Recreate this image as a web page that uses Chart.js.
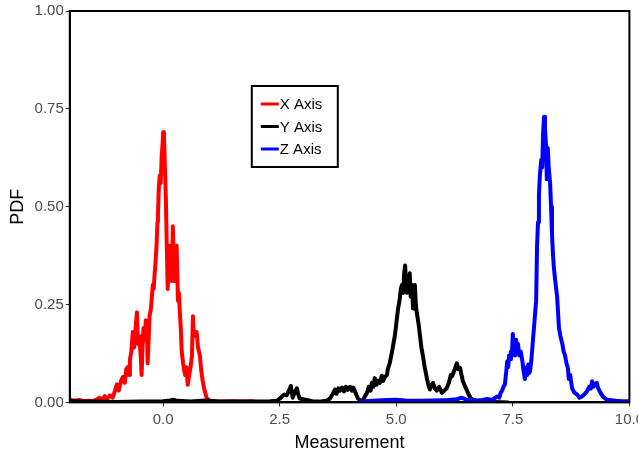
<!DOCTYPE html>
<html>
<head>
<meta charset="utf-8">
<script src="https://cdn.jsdelivr.net/npm/chart.js@4.4.0/dist/chart.umd.min.js"></script>
<style>
  html, body { margin: 0; padding: 0; background: #fff; overflow: hidden; }
  #wrap { width: 648px; height: 454px; }
</style>
</head>
<body>
<div id="wrap"><canvas id="pdfChart" width="648" height="454"></canvas></div>
<script>
// X Axis (red)
const xAxisMeas = [-2.00, -1.90, -1.80, -1.70, -1.60, -1.50, -1.42, -1.36, -1.30, -1.25, -1.20, -1.14, -1.08, -1.03, -0.99, -0.95, -0.90, -0.86, -0.82, -0.79, -0.76, -0.73, -0.71, -0.68, -0.65, -0.62, -0.59, -0.56, -0.54, -0.51, -0.48, -0.46, -0.44, -0.42, -0.39, -0.37, -0.35, -0.33, -0.31, -0.29, -0.26, -0.22, -0.20, -0.18, -0.16, -0.14, -0.12, -0.11, -0.09, -0.07, -0.05, -0.03, -0.01, 0.00, 0.02, 0.04, 0.06, 0.08, 0.10, 0.12, 0.14, 0.16, 0.19, 0.21, 0.23, 0.25, 0.27, 0.29, 0.32, 0.34, 0.36, 0.38, 0.40, 0.43, 0.47, 0.50, 0.53, 0.56, 0.59, 0.62, 0.64, 0.66, 0.69, 0.72, 0.75, 0.79, 0.82, 0.85, 0.89, 0.94, 1.00, 1.10, 1.30, 1.50, 1.70, 1.90, 1.97];
const xAxisPdf  = [0.007, 0.004, 0.006, 0.003, 0.004, 0.003, 0.008, 0.012, 0.006, 0.016, 0.008, 0.018, 0.012, 0.030, 0.046, 0.030, 0.055, 0.065, 0.050, 0.085, 0.090, 0.070, 0.110, 0.130, 0.180, 0.140, 0.190, 0.230, 0.150, 0.170, 0.120, 0.070, 0.140, 0.190, 0.160, 0.210, 0.200, 0.100, 0.160, 0.220, 0.240, 0.300, 0.290, 0.330, 0.360, 0.400, 0.460, 0.480, 0.550, 0.580, 0.560, 0.630, 0.660, 0.690, 0.680, 0.600, 0.520, 0.400, 0.290, 0.350, 0.400, 0.330, 0.310, 0.450, 0.360, 0.310, 0.380, 0.400, 0.260, 0.280, 0.230, 0.190, 0.130, 0.100, 0.070, 0.090, 0.045, 0.070, 0.090, 0.120, 0.220, 0.170, 0.180, 0.180, 0.140, 0.120, 0.080, 0.055, 0.030, 0.010, 0.004, 0.003, 0.002, 0.003, 0.002, 0.003, 0.002];

// Y Axis (black)
const yAxisMeas = [-2.00, -1.80, -1.50, -1.00, -0.50, 0.00, 0.15, 0.22, 0.30, 0.60, 0.90, 1.20, 1.60, 2.00, 2.30, 2.45, 2.55, 2.60, 2.65, 2.70, 2.74, 2.78, 2.82, 2.87, 2.90, 2.93, 3.00, 3.08, 3.20, 3.35, 3.50, 3.58, 3.63, 3.69, 3.72, 3.76, 3.79, 3.84, 3.88, 3.92, 3.96, 4.01, 4.05, 4.08, 4.11, 4.15, 4.18, 4.24, 4.29, 4.33, 4.37, 4.41, 4.45, 4.48, 4.51, 4.54, 4.58, 4.61, 4.65, 4.69, 4.72, 4.76, 4.80, 4.82, 4.86, 4.91, 4.94, 4.97, 5.00, 5.04, 5.07, 5.10, 5.12, 5.15, 5.17, 5.19, 5.21, 5.23, 5.25, 5.27, 5.29, 5.31, 5.34, 5.36, 5.38, 5.40, 5.42, 5.44, 5.48, 5.51, 5.54, 5.57, 5.61, 5.66, 5.69, 5.72, 5.76, 5.79, 5.83, 5.87, 5.92, 5.98, 6.03, 6.08, 6.13, 6.17, 6.20, 6.24, 6.27, 6.30, 6.33, 6.37, 6.40, 6.43, 6.48, 6.54, 6.59, 6.64, 6.75, 6.90, 7.10, 7.40];
const yAxisPdf  = [0.004, 0.002, 0.002, 0.001, 0.002, 0.003, 0.005, 0.007, 0.004, 0.002, 0.005, 0.002, 0.002, 0.002, 0.003, 0.004, 0.015, 0.020, 0.018, 0.030, 0.042, 0.012, 0.025, 0.036, 0.020, 0.010, 0.008, 0.006, 0.003, 0.002, 0.004, 0.010, 0.020, 0.033, 0.022, 0.036, 0.030, 0.038, 0.028, 0.040, 0.032, 0.040, 0.030, 0.038, 0.030, 0.018, 0.010, 0.004, 0.006, 0.015, 0.024, 0.040, 0.030, 0.050, 0.040, 0.062, 0.045, 0.055, 0.050, 0.068, 0.055, 0.065, 0.070, 0.085, 0.100, 0.130, 0.150, 0.170, 0.200, 0.240, 0.260, 0.290, 0.300, 0.280, 0.330, 0.350, 0.310, 0.280, 0.320, 0.300, 0.330, 0.270, 0.300, 0.240, 0.270, 0.300, 0.250, 0.230, 0.200, 0.170, 0.140, 0.120, 0.090, 0.060, 0.045, 0.033, 0.045, 0.050, 0.035, 0.030, 0.040, 0.024, 0.030, 0.036, 0.050, 0.070, 0.067, 0.080, 0.090, 0.100, 0.085, 0.088, 0.070, 0.054, 0.040, 0.024, 0.012, 0.007, 0.003, 0.002, 0.001, 0.000];

// Z Axis (blue)
const zAxisMeas = [4.25, 4.50, 4.80, 5.00, 5.20, 5.50, 5.80, 6.10, 6.30, 6.40, 6.50, 6.70, 6.85, 6.95, 7.05, 7.10, 7.16, 7.21, 7.24, 7.27, 7.30, 7.33, 7.36, 7.38, 7.40, 7.42, 7.44, 7.46, 7.48, 7.50, 7.52, 7.55, 7.57, 7.59, 7.61, 7.64, 7.67, 7.70, 7.73, 7.76, 7.79, 7.81, 7.83, 7.85, 7.87, 7.90, 7.93, 7.96, 8.00, 8.02, 8.04, 8.06, 8.08, 8.11, 8.13, 8.15, 8.17, 8.19, 8.21, 8.23, 8.25, 8.27, 8.30, 8.32, 8.34, 8.36, 8.38, 8.41, 8.45, 8.49, 8.52, 8.56, 8.59, 8.62, 8.65, 8.68, 8.70, 8.73, 8.77, 8.82, 8.88, 8.93, 8.98, 9.03, 9.09, 9.14, 9.17, 9.20, 9.23, 9.26, 9.30, 9.33, 9.38, 9.43, 9.50, 9.54, 9.70, 9.85, 10.00];
const zAxisPdf  = [0.002, 0.004, 0.006, 0.007, 0.005, 0.004, 0.005, 0.006, 0.008, 0.012, 0.007, 0.005, 0.006, 0.009, 0.006, 0.010, 0.015, 0.012, 0.025, 0.030, 0.040, 0.046, 0.080, 0.105, 0.090, 0.120, 0.110, 0.130, 0.120, 0.175, 0.140, 0.120, 0.160, 0.130, 0.150, 0.120, 0.130, 0.110, 0.080, 0.060, 0.090, 0.070, 0.097, 0.075, 0.080, 0.110, 0.157, 0.200, 0.260, 0.400, 0.460, 0.530, 0.580, 0.620, 0.600, 0.690, 0.730, 0.700, 0.660, 0.570, 0.650, 0.600, 0.560, 0.500, 0.430, 0.380, 0.345, 0.310, 0.270, 0.190, 0.170, 0.150, 0.130, 0.120, 0.100, 0.088, 0.060, 0.070, 0.036, 0.025, 0.020, 0.012, 0.015, 0.020, 0.028, 0.040, 0.035, 0.054, 0.040, 0.046, 0.050, 0.036, 0.025, 0.015, 0.008, 0.007, 0.004, 0.003, 0.003];

const xTicks = [0, 2.5, 5, 7.5, 10];
const yTicks = [0, 0.25, 0.5, 0.75, 1];

const seriesNames = ["X Axis", "Y Axis", "Z Axis"];
const seriesColors = ["#ff0000", "#000000", "#0000ff"];

const FONT = "'Liberation Sans', Arial, sans-serif";

function toPoints(xs, ys) {
  return xs.map((x, i) => ({ x: x, y: ys[i] }));
}

// box round the plot area
const frame = {
  id: "frame",
  afterDraw(chart) {
    const { ctx, chartArea: a } = chart;
    ctx.save();
    ctx.strokeStyle = "#000";
    ctx.lineWidth = 2;
    ctx.strokeRect(a.left, a.top, a.right - a.left, a.bottom - a.top);
    ctx.restore();
  }
};

// legend drawn inside the plot, boxed
const boxLegend = {
  id: "boxLegend",
  afterDraw(chart) {
    const { ctx, chartArea: a } = chart;
    const left = a.left + 182, top = a.top + 75, w = 86, h = 81;
    ctx.save();
    ctx.fillStyle = "#fff";
    ctx.fillRect(left, top, w, h);
    ctx.strokeStyle = "#000";
    ctx.lineWidth = 2;
    ctx.strokeRect(left, top, w, h);
    ctx.font = "15px " + FONT;
    ctx.textBaseline = "middle";
    chart.data.datasets.forEach((ds, i) => {
      const y = top + 18 + i * 22.5;
      ctx.strokeStyle = ds.borderColor;
      ctx.lineWidth = 3;
      ctx.beginPath();
      ctx.moveTo(left + 9, y);
      ctx.lineTo(left + 27, y);
      ctx.stroke();
      ctx.fillStyle = "#000";
      ctx.fillText(ds.label, left + 28, y + 1);
    });
    ctx.restore();
  }
};

const sets = [
  [xAxisMeas, xAxisPdf],
  [yAxisMeas, yAxisPdf],
  [zAxisMeas, zAxisPdf]
].map(([xs, ys], i) => ({
  label: seriesNames[i],
  data: toPoints(xs, ys),
  borderColor: seriesColors[i],
  backgroundColor: seriesColors[i],
  borderWidth: 4,
  borderJoinStyle: "round",
  borderCapStyle: "round",
  pointRadius: 0,
  tension: 0,
  order: 2 - i
}));

new Chart(document.getElementById("pdfChart"), {
  type: "line",
  data: { datasets: sets },
  options: {
    responsive: false,
    animation: false,
    layout: { padding: { top: 8, left: 7, right: 0, bottom: 0 } },
    plugins: {
      legend: { display: false },
      tooltip: { enabled: false }
    },
    scales: {
      x: {
        type: "linear",
        min: -2,
        max: 10,
        afterBuildTicks: axis => { axis.ticks = xTicks.map(v => ({ value: v })); },
        ticks: {
          color: "#4d4d4d",
          font: { family: FONT, size: 15 },
          padding: 4,
          maxRotation: 0,
          callback: v => Number(v).toFixed(1)
        },
        grid: { drawOnChartArea: false, drawTicks: true, tickLength: 4, color: "#333", lineWidth: 1 },
        border: { display: true, color: "#000", width: 2 },
        title: { display: true, text: "Measurement", color: "#000", font: { family: FONT, size: 18 }, padding: { top: 0, bottom: 0 } }
      },
      y: {
        type: "linear",
        min: 0,
        max: 1,
        afterBuildTicks: axis => { axis.ticks = yTicks.map(v => ({ value: v })); },
        ticks: {
          color: "#4d4d4d",
          font: { family: FONT, size: 15 },
          padding: 2,
          callback: v => Number(v).toFixed(2)
        },
        grid: { drawOnChartArea: false, drawTicks: true, tickLength: 4, color: "#333", lineWidth: 1 },
        border: { display: true, color: "#000", width: 2 },
        title: { display: true, text: "PDF", color: "#000", font: { family: FONT, size: 18 }, padding: { top: 0, bottom: 4 } }
      }
    }
  },
  plugins: [frame, boxLegend]
});
</script>
</body>
</html>
